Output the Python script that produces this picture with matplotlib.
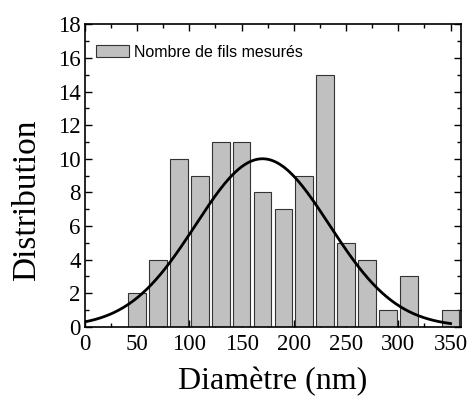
import matplotlib.pyplot as plt
import numpy as np
from matplotlib.ticker import MultipleLocator
from matplotlib.patches import Patch

# histogram of measured diameters (bin centres, nm) and counts
diam_centres = [50, 70, 90, 110, 130, 150, 170, 190, 210, 230, 250, 270, 290, 310, 330, 350]
counts = [2, 4, 10, 9, 11, 11, 8, 7, 9, 15, 5, 4, 1, 3, 0, 1]

# gaussian fit parameters
fit_xc = 170.0
fit_sigma = 64.0
fit_amp = 10.0
fit_range = (0, 350)

serif = "Liberation Serif"
sans = "Liberation Sans"

fig = plt.figure(figsize=(4.69, 3.99), dpi=100)
ax = fig.add_axes([0.181, 0.181, 0.802, 0.758])

ax.bar(diam_centres, counts, width=17, color="#c0c0c0",
       edgecolor="#333333", linewidth=0.8, zorder=2)

xs = np.linspace(fit_range[0], fit_range[1], 400)
ax.plot(xs, fit_amp * np.exp(-(xs - fit_xc) ** 2 / (2 * fit_sigma ** 2)),
        color="black", linewidth=2, zorder=3)

ax.set_xlim(0, 360)
ax.set_ylim(0, 18)
ax.xaxis.set_major_locator(MultipleLocator(50))
ax.xaxis.set_minor_locator(MultipleLocator(25))
ax.yaxis.set_major_locator(MultipleLocator(2))
ax.yaxis.set_minor_locator(MultipleLocator(1))
ax.tick_params(which="both", direction="in", top=True, right=True, width=1)
ax.tick_params(which="major", length=5, labelsize=16.5)
ax.tick_params(axis="x", which="major", pad=5)
ax.tick_params(axis="y", which="major", pad=3)
ax.tick_params(which="minor", length=3)
for lbl in ax.get_xticklabels() + ax.get_yticklabels():
    lbl.set_fontfamily(serif)
for spine in ax.spines.values():
    spine.set_linewidth(1.2)

ax.set_xlabel("Diamètre (nm)", fontfamily=serif, fontsize=23, labelpad=9)
ax.set_ylabel("Distribution", fontfamily=serif, fontsize=24)
ax.yaxis.set_label_coords(-0.113, 0.417)

handle = Patch(facecolor="#c0c0c0", edgecolor="#333333", linewidth=0.8)
ax.legend([handle], ["Nombre de fils mesurés"], loc="center left",
          bbox_to_anchor=(0.029, 0.908), frameon=False,
          prop={"family": sans, "size": 11.5},
          handlelength=2.1, handleheight=0.75, handletextpad=0.3,
          borderaxespad=0, borderpad=0)

fig.savefig("out.png", dpi=100)
